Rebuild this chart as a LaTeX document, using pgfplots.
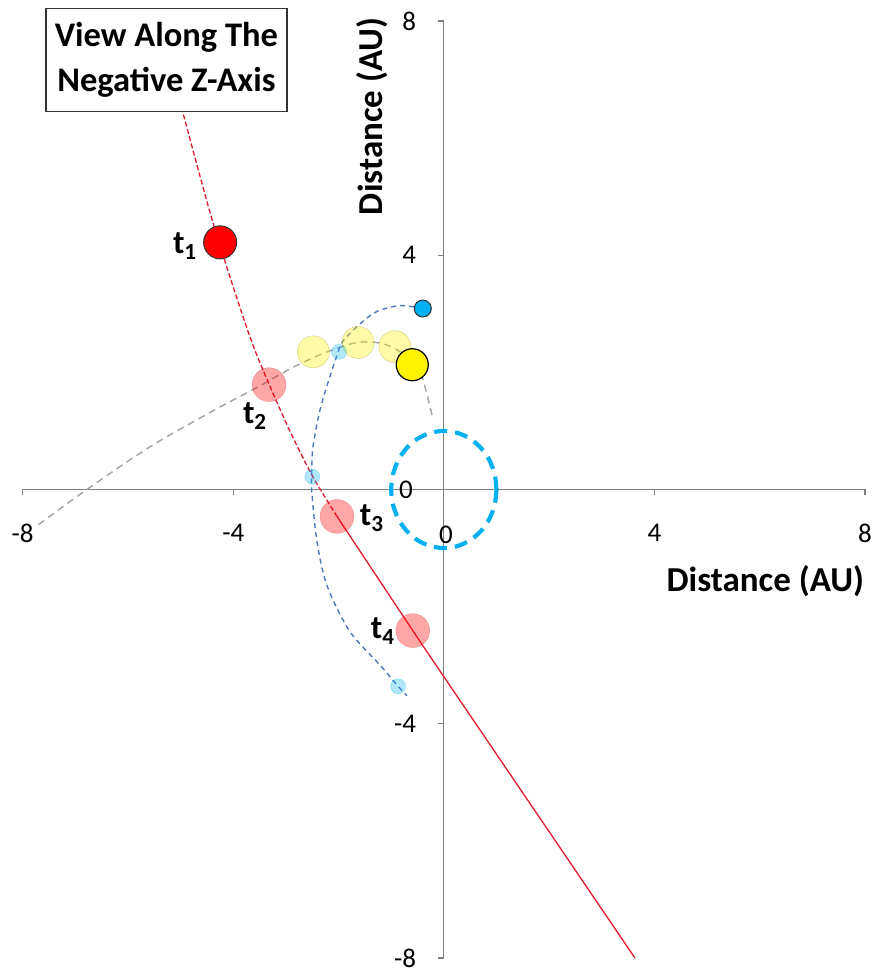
\documentclass[border=0pt]{standalone}
\usepackage{pgfplots}
\pgfplotsset{compat=1.18}
\usepackage{fontspec}
\setmainfont{Carlito}
\definecolor{cyanx}{RGB}{0,176,240}
\definecolor{bluepath}{RGB}{80,120,190}
\definecolor{grayline}{RGB}{165,165,165}
\definecolor{redline}{RGB}{228,25,45}
\begin{document}
\begin{tikzpicture}
\useasboundingbox (0,0) rectangle (878pt,971pt);
\begin{axis}[
 at={(22.7pt,13pt)}, anchor=south west,
 scale only axis, width=842.3pt, height=937pt,
 xmin=-8,xmax=8,ymin=-8,ymax=8,
 axis lines=middle,
 axis line style={draw=gray, line width=1.2pt, -},
 xtick={-8,-4,0,4,8}, ytick={-8,-4,0,4,8},
 tick align=outside, major tick length=6pt,
 tick style={draw=gray, line width=1.2pt},
 /pgf/number format/assume math mode=true,
 ticklabel style={font=\fontsize{27}{32}\selectfont},
 xticklabel style={anchor=north, yshift=-25pt},
 yticklabel style={anchor=east, inner sep=0pt, xshift=-21.5pt},
 clip=false,
]
% translucent circles
\addplot[only marks, mark=*, mark size=17pt, mark options={fill=red, fill opacity=0.35, draw=red!70!black, draw opacity=0.25}]
 coordinates {(-3.32,1.79) (-2.03,-0.46) (-0.59,-2.41)};
\addplot[only marks, mark=*, mark size=16pt, mark options={fill=yellow, fill opacity=0.35, draw=olive, draw opacity=0.4}]
 coordinates {(-2.48,2.35) (-1.63,2.51) (-0.93,2.44)};
\addplot[only marks, mark=*, mark size=7.5pt, mark options={fill=cyanx, fill opacity=0.3, draw=cyanx, draw opacity=0.4}]
 coordinates {(-1.99,2.35) (-2.50,0.22) (-0.87,-3.36)};
% bright yellow
\addplot[only marks, mark=*, mark size=16pt, mark options={fill=yellow, draw=black, line width=1.2pt}]
 coordinates {(-0.60,2.13)};
% gray dashed orbit
\addplot[grayline, line width=1.5pt, dash pattern=on 7pt off 5pt, smooth]
 coordinates {(-7.70,-0.60) (-6.78,0) (-5.58,0.73) (-4.31,1.38) (-3.49,1.77) (-2.92,2.06) (-2.30,2.32) (-1.65,2.51) (-1.16,2.49) (-0.78,2.32) (-0.45,2.01) (-0.21,1.21)};
% blue dashed path
\addplot[bluepath, line width=1.4pt, dash pattern=on 5pt off 4pt, smooth]
 coordinates {(-0.40,3.09) (-0.83,3.14) (-1.27,3.04) (-1.59,2.83) (-1.92,2.53) (-2.03,2.29) (-2.22,1.77) (-2.36,1.33) (-2.49,0.70) (-2.51,0.22) (-2.51,-0.03) (-2.41,-0.89) (-2.22,-1.64) (-1.79,-2.42) (-1.21,-3.00) (-0.87,-3.36) (-0.70,-3.52)};
% red trajectory
\addplot[redline, line width=1.3pt, dash pattern=on 5pt off 2.5pt, smooth]
 coordinates {(-5.02,6.65) (-4.39,4.57) (-3.72,2.70) (-3.34,1.84) (-2.92,0.99) (-2.49,0.22) (-2.03,-0.46)};
\addplot[redline, line width=1.3pt, smooth]
 coordinates {(-2.03,-0.46) (-0.59,-2.41) (-0.02,-3.17) (3.63,-8.0)};
% opaque markers
\addplot[only marks, mark=*, mark size=16.5pt, mark options={fill=red, draw=black!80, line width=1pt}]
 coordinates {(-4.25,4.22)};
\addplot[only marks, mark=*, mark size=8.5pt, mark options={fill=cyanx, draw=black!80, line width=1pt}]
 coordinates {(-0.40,3.09)};
% unit circle (Earth orbit)
\addplot[cyanx, line width=4.2pt, dash pattern=on 13pt off 8pt, smooth]
 coordinates {(1,0) (0.966,0.259) (0.866,0.5) (0.707,0.707) (0.5,0.866) (0.259,0.966) (0,1) (-0.259,0.966) (-0.5,0.866) (-0.707,0.707) (-0.866,0.5) (-0.966,0.259) (-1,0) (-0.966,-0.259) (-0.866,-0.5) (-0.707,-0.707) (-0.5,-0.866) (-0.259,-0.966) (0,-1) (0.259,-0.966) (0.5,-0.866) (0.707,-0.707) (0.866,-0.5) (0.966,-0.259) (1,0)};
% zero tick labels
\node[font=\fontsize{27}{32}\selectfont, inner sep=0pt] at (axis cs:0.04,-0.78) {0};
\node[font=\fontsize{27}{32}\selectfont, inner sep=0pt] at (axis cs:-0.72,0.0) {0};
% labels
\node[font=\bfseries\fontsize{33}{36}\selectfont] at (axis cs:-4.92,4.16) {t\textsubscript{1}};
\node[font=\bfseries\fontsize{33}{36}\selectfont] at (axis cs:-3.59,1.25) {t\textsubscript{2}};
\node[font=\bfseries\fontsize{33}{36}\selectfont] at (axis cs:-1.37,-0.49) {t\textsubscript{3}};
\node[font=\bfseries\fontsize{33}{36}\selectfont] at (axis cs:-1.16,-2.42) {t\textsubscript{4}};
\node[draw=black!80, line width=1.3pt, fill=white, minimum width=241pt, minimum height=103pt, align=center, inner sep=0pt, font=\bfseries\fontsize{34.5}{45}\selectfont] at (axis cs:-5.27,7.33) {View Along The\\Negative Z-Axis};
\node[anchor=east, font=\bfseries\fontsize{35}{40}\selectfont] at (axis cs:8.05,-1.57) {Distance (AU)};
\node[anchor=east, rotate=90, font=\bfseries\fontsize{35}{40}\selectfont] at (axis cs:-1.365,8.12) {Distance (AU)};
\end{axis}
\end{tikzpicture}
\end{document}
